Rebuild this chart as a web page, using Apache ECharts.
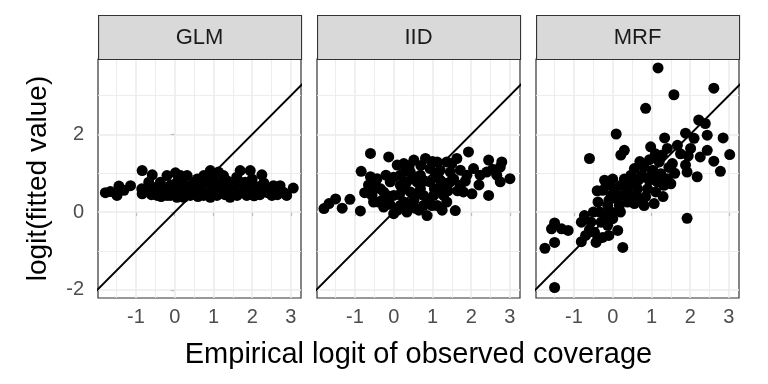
<!DOCTYPE html>
<html><head><meta charset="utf-8">
<script src="https://cdn.jsdelivr.net/npm/echarts@6/dist/echarts.min.js"></script>
<style>html,body{margin:0;padding:0;background:#fff}#c{width:768px;height:384px}</style>
</head><body><div id="c"></div>
<script>
const panels = ["GLM", "IID", "MRF"];
const xTicks = [-1, 0, 1, 2, 3];
const yTicks = [-2, 0, 2];
const xMajorGrid = [-1, 0, 1, 2, 3];
const xMinorGrid = [-1.5, -0.5, 0.5, 1.5, 2.5];
const yMajorGrid = [-2, 0, 2];
const yMinorGrid = [-1, 1, 3];
const xRange = [-1.98, 3.26];
const yRange = [-2.21, 3.94];
const identityLine = [-3, 4];
const xTitle = "Empirical logit of observed coverage";
const yTitle = "logit(fitted value)";

const glmPoints = [
[-1.79,0.50],[-1.66,0.53],[-1.49,0.43],[-1.44,0.67],[-1.31,0.56],[-1.14,0.68],[-0.84,1.07],[-0.84,0.47],
[-0.58,0.96],[-0.67,0.77],[-0.54,0.60],[-0.45,0.43],[-0.20,0.94],[0.02,1.01],[-0.11,0.43],[-0.24,0.60],
[0.06,0.77],[0.15,0.60],[0.23,0.38],[0.40,0.68],[0.58,0.85],[0.66,0.60],[0.75,0.43],[0.92,1.07],
[1.13,1.03],[0.83,0.77],[1.05,0.68],[1.22,0.51],[1.35,0.81],[1.43,0.60],[1.61,0.43],[1.69,1.07],
[1.95,1.07],[2.25,0.96],[1.82,0.77],[1.86,0.43],[2.12,0.51],[2.03,0.68],[2.38,0.60],[2.55,0.68],
[2.72,0.68],[2.81,0.51],[2.89,0.43],[3.06,0.62],[0.40,0.43],[0.92,0.38],[1.43,0.38],[0.06,0.38],
[-0.37,0.77],[0.32,0.94],[0.75,0.94],[1.26,0.94],[1.09,0.43],[0.58,0.51],[2.51,0.43],[-0.20,0.43],
[0.15,0.94],[-0.70,0.55],[-0.30,0.50],[0.50,0.75],[0.95,0.55],[1.55,0.70],[1.70,0.50],[2.20,0.45],
[2.60,0.55],[-0.05,0.55],[0.30,0.55],[1.20,0.75],[1.80,0.60],[2.30,0.75],
[-0.45,0.65],[-0.10,0.70],[0.20,0.80],[0.45,0.55],[0.70,0.70],[0.85,0.50],[1.00,0.85],[1.15,0.55],
[1.30,0.45],[1.50,0.50],[1.65,0.80],[1.95,0.50],[2.05,0.42],[2.40,0.50],[2.65,0.45],[-0.60,0.45],
[0.10,0.50],[0.60,0.40],[1.35,0.65],[2.15,0.65],[-0.85,0.60],[-0.35,0.40],[0.85,0.90],[1.60,0.90],[2.00,0.85]
];
const iidPoints = [
[-1.80,0.09],[-1.67,0.22],[-1.50,0.34],[-1.33,0.10],[-1.13,0.33],[-0.86,0.03],[-0.60,1.51],[-0.13,1.42],
[-0.84,1.05],[-0.60,0.91],[-0.47,0.78],[-0.75,0.50],[-0.34,0.60],[-0.39,0.26],[-0.26,0.13],[0.00,-0.04],
[0.34,0.00],[0.17,0.17],[-0.17,0.43],[0.09,1.21],[0.26,1.25],[0.52,1.34],[0.82,1.38],[1.12,1.29],
[1.37,1.29],[1.63,1.38],[1.93,1.55],[0.17,0.95],[0.43,1.03],[0.69,0.95],[0.94,1.12],[1.20,1.08],
[1.46,1.03],[1.72,1.08],[1.89,0.95],[-0.09,0.78],[0.17,0.69],[0.43,0.52],[0.69,0.60],[0.94,0.78],
[1.20,0.60],[1.46,0.78],[1.72,0.69],[0.00,0.43],[0.26,0.26],[0.52,0.30],[0.77,0.17],[0.86,-0.09],
[1.12,0.17],[1.37,0.26],[1.59,0.04],[1.03,0.43],[1.29,0.43],[2.02,0.47],[2.45,1.34],[2.79,1.29],
[2.75,1.16],[2.23,0.95],[2.40,1.03],[2.66,0.95],[2.75,0.78],[3.00,0.86],[2.06,1.12],[2.45,0.43],
[-0.43,0.86],[-0.56,0.43],[0.60,0.78],[0.77,0.43],[1.20,0.82],[1.50,1.25],[0.34,0.78],[-0.26,0.52],
[-0.52,0.26],[1.80,0.52],[0.99,0.17],[0.10,0.05],[0.55,0.10],[1.10,0.95],[0.70,1.20],[0.30,1.05],
[0.00,0.90],[0.30,0.60],[0.50,0.90],[0.60,0.45],[0.80,0.80],[0.90,0.30],[1.05,0.60],[1.15,1.00],
[1.30,0.75],[1.40,0.55],[1.55,0.85],[1.65,0.55],[1.85,0.80],[-0.20,0.95],[-0.30,0.30],[-0.10,0.20],
[0.40,0.20],[0.65,0.05],[1.25,0.05],[0.15,0.45],[2.20,0.70],[2.55,1.10],[1.00,1.30],[0.40,1.20],
[-0.50,0.60],[-0.65,0.70]
];
const mrfPoints = [
[1.17,3.71],[2.61,3.19],[1.58,3.02],[0.85,2.67],[0.09,2.01],[-0.60,1.38],[2.22,2.37],[2.39,2.28],
[1.88,2.03],[2.44,1.98],[2.85,1.91],[3.02,1.48],[1.34,1.91],[0.98,1.68],[0.21,1.47],[0.30,1.59],
[1.41,1.64],[1.67,1.72],[2.01,1.64],[2.26,1.42],[2.44,1.59],[2.61,1.31],[2.78,1.05],[1.88,1.21],
[1.92,1.03],[2.18,0.91],[1.54,1.25],[1.28,1.47],[1.20,1.29],[0.56,1.12],[0.81,1.16],[1.03,1.08],
[1.24,0.99],[1.41,0.86],[1.50,0.73],[0.47,0.95],[0.68,0.86],[0.94,0.82],[1.15,0.78],[1.32,0.69],
[0.64,0.60],[0.90,0.60],[1.11,0.52],[0.38,0.60],[0.21,0.69],[0.04,0.60],[-0.21,0.82],[-0.13,0.69],
[-0.26,0.56],[-0.04,0.43],[0.21,0.43],[0.38,0.26],[0.56,0.22],[0.81,0.17],[1.07,0.22],[0.68,0.34],
[0.17,0.17],[-0.38,0.26],[-0.13,0.17],[-0.34,0.00],[-0.21,-0.09],[-0.04,0.00],[0.00,-0.17],[-0.73,-0.09],
[-0.56,-0.26],[-0.81,-0.26],[-0.30,-0.26],[-0.13,-0.34],[0.13,-0.47],[-0.47,-0.52],[-0.38,-0.69],[-0.26,-0.65],
[-0.43,-0.78],[-0.81,-0.76],[0.26,-0.91],[-1.50,-0.28],[-1.58,-0.43],[-1.32,-0.43],[-1.15,-0.47],[-1.50,-0.78],
[-1.75,-0.93],[-1.50,-1.94],[1.92,-0.16],
[0.30,0.85],[0.50,0.75],[0.75,0.95],[1.00,0.95],[0.85,0.40],[0.60,0.45],[0.45,0.40],[0.10,0.35],
[-0.10,0.30],[0.20,0.00],[-0.50,0.00],[-0.60,-0.45],[-0.70,-0.60],[1.30,0.40],[1.60,1.00],[1.75,1.50],
[1.95,1.45],[2.10,1.90],[1.45,1.15],[0.95,1.35],[0.70,1.30],[1.10,1.50],[-0.10,-0.60],[-0.40,0.55],[0.00,0.85]
];
const panelData = [glmPoints, iidPoints, mrfPoints];

const lefts = [98, 317, 536];
const W = 203, TOP = 59, H = 239, STRIP_TOP = 15;
const font = "Liberation Sans";

function gridMarkLine(i, xs, ys, width) {
  return {type: 'line', xAxisIndex: i, yAxisIndex: i, data: [], z: 1, silent: true,
    markLine: {z: 1, silent: true, symbol: 'none', animation: false, label: {show: false},
      lineStyle: {color: '#EBEBEB', width: width, type: 'solid'},
      emphasis: {disabled: true},
      data: xs.map(v => ({xAxis: v})).concat(ys.map(v => ({yAxis: v})))}};
}

const grid = [], xAxis = [], yAxis = [], series = [], graphic = [];
panels.forEach((name, i) => {
  grid.push({left: lefts[i], top: TOP, width: W, height: H, show: true, backgroundColor: '#fff',
    borderColor: '#333333', borderWidth: 1.2, containLabel: false});
  xAxis.push({type: 'value', gridIndex: i, min: xRange[0], max: xRange[1],
    axisLine: {show: false}, splitLine: {show: false},
    axisTick: {show: true, customValues: xTicks, length: 4, lineStyle: {color: '#333333', width: 1.1}},
    axisLabel: {show: true, customValues: xTicks, color: '#4D4D4D', fontSize: 20, fontFamily: font, margin: 9}});
  yAxis.push({type: 'value', gridIndex: i, min: yRange[0], max: yRange[1],
    axisLine: {show: false}, splitLine: {show: false},
    axisTick: {show: i === 0, customValues: yTicks, length: 4, lineStyle: {color: '#333333', width: 1.1}},
    axisLabel: {show: i === 0, customValues: yTicks, color: '#4D4D4D', fontSize: 20, fontFamily: font, margin: 14}});
  series.push(gridMarkLine(i, xMinorGrid, yMinorGrid, 0.9));
  series.push(gridMarkLine(i, xMajorGrid, yMajorGrid, 1.5));
  series.push({type: 'line', xAxisIndex: i, yAxisIndex: i, z: 8, silent: true, symbol: 'none', clip: true,
    lineStyle: {color: '#000', width: 2}, animation: false,
    data: identityLine.map(v => [v, v])});
  series.push({type: 'scatter', xAxisIndex: i, yAxisIndex: i, z: 9, symbolSize: 11, animation: false,
    itemStyle: {color: '#000', opacity: 1, borderWidth: 0}, emphasis: {disabled: true}, data: panelData[i]});
  graphic.push({type: 'rect', left: lefts[i], top: STRIP_TOP, shape: {width: W, height: TOP - STRIP_TOP},
    style: {fill: '#D9D9D9', stroke: '#333333', lineWidth: 1.1}, z: 10});
  graphic.push({type: 'text', x: lefts[i] + W / 2, y: (STRIP_TOP + TOP) / 2 + 1,
    style: {text: name, fill: '#1A1A1A', font: '22px "' + font + '"', align: 'center', verticalAlign: 'middle'}, z: 11});
});
graphic.push({type: 'text', x: (lefts[0] + lefts[2] + W) / 2, y: 355,
  style: {text: xTitle, fill: '#000', font: '29px "' + font + '"', align: 'center', verticalAlign: 'middle'}});
graphic.push({type: 'text', x: 38, y: TOP + H / 2, rotation: Math.PI / 2,
  style: {text: yTitle, fill: '#000', font: '28px "' + font + '"', align: 'center', verticalAlign: 'middle'}});

const chart = echarts.init(document.getElementById('c'), null, {renderer: 'canvas'});
chart.setOption({animation: false, grid, xAxis, yAxis, series, graphic});
</script></body></html>
